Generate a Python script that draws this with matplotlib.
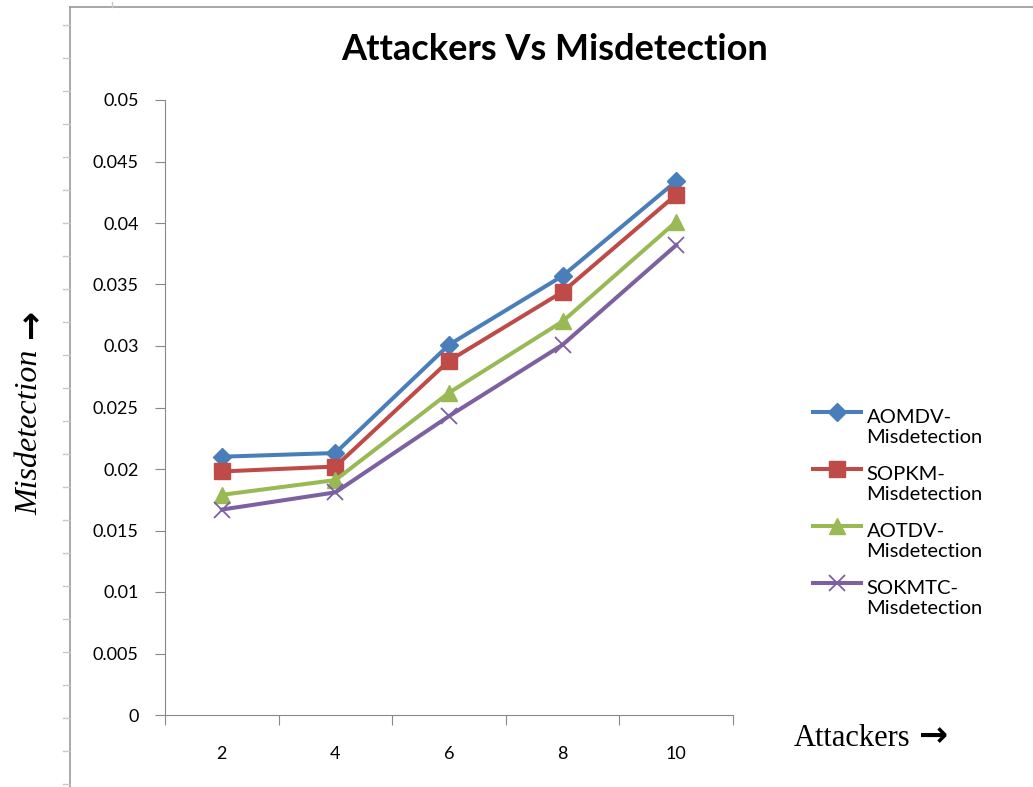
import matplotlib.pyplot as plt
from matplotlib.lines import Line2D
from matplotlib.legend_handler import HandlerLine2D

attackers = ["2", "4", "6", "8", "10"]
aomdv = [0.0210, 0.0213, 0.0301, 0.0357, 0.0434]
sopkm = [0.0198, 0.0202, 0.0288, 0.0344, 0.0423]
aotdv = [0.0179, 0.0191, 0.0262, 0.0320, 0.0401]
sokmtc = [0.0167, 0.0181, 0.0243, 0.0301, 0.0382]

W, H = 1033, 787
fig = plt.figure(figsize=(W / 100, H / 100), dpi=100)

# outer frame (left and top border with little ruler ticks)
def px(x, y):
    return x / W, 1 - y / H

frame_col = "#9a9a9a"
x0, y0 = px(70, 7)
fig.add_artist(Line2D([x0, x0], [y0, 0], color=frame_col, lw=1.2))
fig.add_artist(Line2D([x0, 1], [y0, y0], color=frame_col, lw=1.2))
for yy in range(25, 787, 33):
    a, b = px(63, yy)
    c, _ = px(70, yy)
    fig.add_artist(Line2D([a, c], [b, b], color="#c8c8c8", lw=1))
a, b = px(112, 2)
_, d = px(112, 7)
fig.add_artist(Line2D([a, a], [b, d], color="#c8c8c8", lw=1))

ax = fig.add_axes([165 / W, 1 - 715 / H, (733 - 165) / W, (715 - 100) / H])

x = list(range(len(attackers)))
ax.plot(x, aomdv, color="#4A7EBB", lw=2.9, marker="D", ms=9, label="AOMDV-\nMisdetection")
ax.plot(x, sopkm, color="#BE4B48", lw=2.9, marker="s", ms=11, label="SOPKM-\nMisdetection")
ax.plot(x, aotdv, color="#98B954", lw=2.9, marker="^", ms=11, label="AOTDV-\nMisdetection")
ax.plot(x, sokmtc, color="#7D60A0", lw=2.9, marker="x", ms=11, mew=1.3, label="SOKMTC-\nMisdetection")

ax.set_xlim(-0.5, len(attackers) - 0.5)
ax.set_ylim(0, 0.05)
ax.set_yticks([i * 0.005 for i in range(11)])
ax.set_yticklabels(["0", "0.005", "0.01", "0.015", "0.02", "0.025", "0.03",
                    "0.035", "0.04", "0.045", "0.05"], fontfamily="Lato", fontsize=13)
ax.set_xticks([i - 0.5 for i in range(len(attackers) + 1)])
ax.set_xticklabels([])
ax.set_xticks(x, minor=True)
ax.set_xticklabels(attackers, minor=True, fontfamily="Lato", fontsize=13)
ax.tick_params(axis="x", which="minor", length=0, pad=22)
ax.tick_params(axis="x", which="major", length=7, color="#888888", direction="out")
ax.tick_params(axis="y", length=7, color="#888888", direction="out", pad=12)
for s in ["top", "right"]:
    ax.spines[s].set_visible(False)
for s in ["left", "bottom"]:
    ax.spines[s].set_color("#888888")

fig.text(0.5365, 1 - 50 / H, "Attackers Vs Misdetection", ha="center", va="center",
         fontfamily="Lato", fontweight="bold", fontsize=26)


# put the legend line next to the first text line, like Excel does
class TopHandler(HandlerLine2D):
    def create_artists(self, legend, orig_handle, xdescent, ydescent, width, height,
                       fontsize, trans):
        arts = super().create_artists(legend, orig_handle, xdescent, ydescent, width,
                                      height, fontsize, trans)
        for a in arts:
            a.set_ydata([v + 0.75 * fontsize for v in a.get_ydata()])
        return arts


leg = fig.legend(loc="center left", bbox_to_anchor=(795 / W, 1 - 513 / H), frameon=False,
                 prop={"family": "Lato", "size": 14.5}, handlelength=2.4, labelspacing=1.0,
                 handletextpad=0.25, handler_map={Line2D: TopHandler()})

fig.text(30 / W, 1 - 432 / H, "Misdetection", rotation=90, ha="center", va="center",
         fontfamily="Liberation Serif", fontstyle="italic", fontsize=23)
fig.text(31 / W, 1 - 324 / H, "\u2192", rotation=90, ha="center", va="center",
         fontfamily="DejaVu Sans", fontweight="bold", fontsize=25)
fig.text(852 / W, 1 - 738 / H, "Attackers", ha="center", va="center",
         fontfamily="Liberation Serif", fontsize=22)
fig.text(933 / W, 1 - 736 / H, "\u2192", ha="center", va="center",
         fontfamily="DejaVu Sans", fontweight="bold", fontsize=25)

fig.savefig("out.png", dpi=100)
